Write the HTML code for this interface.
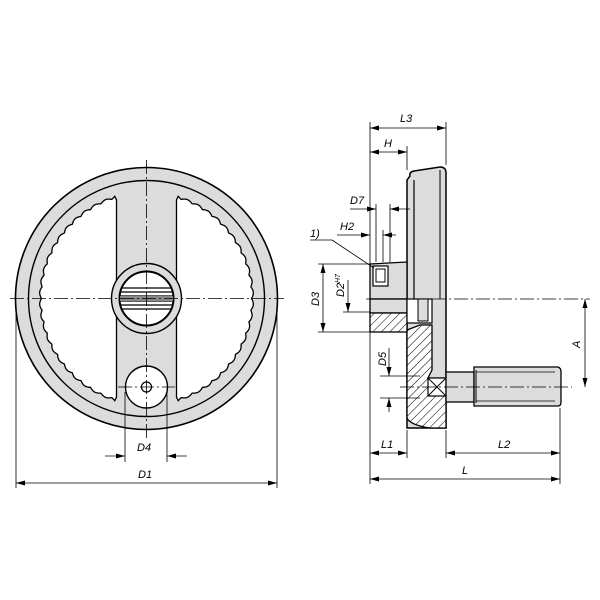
<!DOCTYPE html>
<html><head><meta charset="utf-8"><style>
html,body{margin:0;padding:0;background:#fff;}
svg{display:block}
text{font-family:"Liberation Sans",sans-serif;font-style:italic;font-size:11px;fill:#000}
</style></head><body>
<svg id="s" width="600" height="600" viewBox="0 0 600 600" xmlns="http://www.w3.org/2000/svg">
<defs>
<pattern id="h" width="6" height="6" patternUnits="userSpaceOnUse" patternTransform="rotate(45)">
<rect width="6" height="6" fill="#fff"/><line x1="0" y1="0" x2="0" y2="6" stroke="#000" stroke-width="1"/></pattern>
</defs>
<circle cx="146.5" cy="298.5" r="131" fill="#dcdcdc" stroke="#000" stroke-width="1.6"/>
<circle cx="146.5" cy="298.5" r="118" fill="none" stroke="#000" stroke-width="1.4"/>
<path id="wl" fill="#fff" stroke="#000" stroke-width="1.3"/>
<path id="wr" fill="#fff" stroke="#000" stroke-width="1.3"/>
<circle cx="146.5" cy="298.5" r="35" fill="#dcdcdc" stroke="#000" stroke-width="1.4"/>
<circle cx="146.5" cy="298.5" r="27" fill="#fff" stroke="#000" stroke-width="2"/>
<g stroke="#000" stroke-width="1.2">
<line x1="121" y1="288" x2="172" y2="288"/><line x1="120" y1="292" x2="173" y2="292"/>
<line x1="120" y1="296" x2="173" y2="296"/><line x1="120" y1="301" x2="173" y2="301"/>
<line x1="120" y1="305" x2="173" y2="305"/><line x1="121" y1="309" x2="172" y2="309"/>
</g>
<rect x="120" y="296" width="53" height="5" fill="#888"/>
<circle cx="146.5" cy="387" r="21" fill="#fff" stroke="#000" stroke-width="1.4"/>
<circle cx="146.5" cy="387" r="5" fill="#fff" stroke="#000" stroke-width="1.2"/>
<g stroke="#000" stroke-width="0.8" stroke-dasharray="14,3,2,3" fill="none">
<line x1="10" y1="298.5" x2="284" y2="298.5"/>
<line x1="146.5" y1="160" x2="146.5" y2="440"/>
<line x1="118" y1="387" x2="175" y2="387"/>
</g>
<g stroke="#000" stroke-width="0.8" fill="none">
<line x1="125" y1="392" x2="125" y2="462"/><line x1="167" y1="392" x2="167" y2="462"/>
<line x1="105" y1="456" x2="125" y2="456"/><line x1="187" y1="456" x2="167" y2="456"/>
<line x1="16" y1="305" x2="16" y2="488"/><line x1="277" y1="305" x2="277" y2="488"/>
<line x1="16" y1="483" x2="277" y2="483"/>
</g>
<text x="137" y="451">D4</text><text x="138" y="478">D1</text>
<path d="M410,176 Q409,172 414,171 L440,167 Q446,167 446,173 L446,428 L407,428 L407,180z" fill="#dcdcdc" stroke="#000" stroke-width="1.5"/>
<line x1="414" y1="180" x2="414" y2="300" stroke="#000" stroke-width="1.2"/>
<line x1="440" y1="170" x2="440" y2="299" stroke="#000" stroke-width="1"/>
<path d="M370,264 L407,262 L407,299 L370,299z" fill="#dcdcdc" stroke="#000" stroke-width="1.3"/>
<rect x="370" y="299" width="37" height="14" fill="#dcdcdc" stroke="#000" stroke-width="1.3"/>
<rect x="370" y="313" width="37" height="19" fill="url(#h)" stroke="#000" stroke-width="1.3"/>
<rect x="373" y="266" width="15" height="20" fill="#fff" stroke="#000" stroke-width="1.2"/>
<rect x="376" y="269" width="9" height="13" fill="#fff" stroke="#000" stroke-width="1"/>
<rect x="407" y="299" width="25" height="24" fill="#fff" stroke="#000" stroke-width="1.2"/>
<rect x="418" y="299" width="10" height="22" fill="#dcdcdc" stroke="#000" stroke-width="1"/>
<path d="M407,330 L420,325 L432,325 L432,370 L428,378 L446,378 L446,428 L430,428 Q410,425 407,418z" fill="url(#h)" stroke="#000" stroke-width="1.3"/>
<rect x="428" y="378" width="18" height="18" fill="#fff" stroke="#000" stroke-width="1.2"/>
<line x1="428" y1="378" x2="446" y2="396" stroke="#000"/><line x1="446" y1="378" x2="428" y2="396" stroke="#000"/>
<rect x="446" y="372" width="28" height="30" fill="#dcdcdc" stroke="#000" stroke-width="1.3"/>
<path d="M474,367 L558,367 Q561,368 561,372 L561,402 Q561,406 558,406 L474,406z" fill="#dcdcdc" stroke="#000" stroke-width="1.3"/>
<line x1="476" y1="370" x2="476" y2="403" stroke="#000"/>
<line x1="476" y1="372" x2="555" y2="372" stroke="#000" stroke-width=".8"/>
<line x1="476" y1="401" x2="555" y2="401" stroke="#000" stroke-width=".8"/>
<g stroke="#000" stroke-width="0.8" stroke-dasharray="14,3,2,3" fill="none">
<line x1="366" y1="299" x2="590" y2="299"/>
<line x1="400" y1="387" x2="572" y2="387"/>
</g>
<g stroke="#000" stroke-width="0.8" fill="none">
<line x1="370" y1="122" x2="370" y2="484"/><line x1="446" y1="122" x2="446" y2="165"/>
<line x1="370" y1="128" x2="446" y2="128"/>
<line x1="407" y1="146" x2="407" y2="170"/>
<line x1="370" y1="152" x2="407" y2="152"/>
<line x1="376" y1="204" x2="376" y2="262"/><line x1="390" y1="204" x2="390" y2="262"/>
<line x1="350" y1="209" x2="376" y2="209"/><line x1="410" y1="209" x2="390" y2="209"/>
<line x1="383" y1="230" x2="383" y2="262"/>
<line x1="337" y1="235" x2="370" y2="235"/><line x1="396" y1="235" x2="383" y2="235"/>
<line x1="318" y1="264" x2="370" y2="264"/><line x1="318" y1="332" x2="370" y2="332"/>
<line x1="323" y1="264" x2="323" y2="332"/>
<line x1="343" y1="312" x2="370" y2="312"/>
<line x1="348" y1="280" x2="348" y2="312"/>
<line x1="310" y1="240" x2="332" y2="240"/><line x1="332" y1="240" x2="374" y2="268"/>
<line x1="380" y1="376" x2="420" y2="376"/><line x1="380" y1="398" x2="420" y2="398"/>
<line x1="389" y1="348" x2="389" y2="376"/><line x1="389" y1="412" x2="389" y2="398"/>
<line x1="585" y1="299" x2="585" y2="387"/>
<line x1="407" y1="430" x2="407" y2="458"/><line x1="446" y1="430" x2="446" y2="458"/>
<line x1="560" y1="408" x2="560" y2="484"/>
<line x1="370" y1="453" x2="407" y2="453"/>
<line x1="446" y1="453" x2="560" y2="453"/>
<line x1="370" y1="479" x2="560" y2="479"/>
</g>
<g id="arr" fill="#000"></g>
<text x="400" y="122">L3</text><text x="384" y="147">H</text><text x="350" y="204">D7</text>
<text x="340" y="230">H2</text><text x="310" y="237">1)</text>
<text x="381" y="448">L1</text><text x="498" y="448">L2</text><text x="462" y="474">L</text>
<text transform="translate(319,306) rotate(-90)">D3</text>
<text transform="translate(344,297) rotate(-90)">D2<tspan dy="-4" font-size="7">H7</tspan></text>
<text transform="translate(386,366) rotate(-90)">D5</text>
<text transform="translate(580,348) rotate(-90)">A</text>
</svg>
<script>
function win(side){
 var cx=146.5,cy=298.5,R=107,xo=30,pts=[];
 var t0=Math.acos(xo/R);
 var n=400;
 for(var i=0;i<=n;i++){
  var t=-t0+2*t0*i/n;
  var r=R-2+2*Math.abs(Math.sin(t*28));
  var x=r*Math.cos(t),y=r*Math.sin(t);
  if(x<xo+2)x=xo+2;
  pts.push([cx+side*x,cy+y]);
 }
 var d="M"+(cx+side*xo)+","+(cy-Math.sqrt(R*R-xo*xo)+4);
 pts.forEach(function(p){d+=" L"+p[0].toFixed(1)+","+p[1].toFixed(1);});
 d+=" L"+(cx+side*xo)+","+(cy+Math.sqrt(R*R-xo*xo)-4)+"z";
 return d;
}
document.getElementById("wl").setAttribute("d",win(-1));
document.getElementById("wr").setAttribute("d",win(1));
var A=[[125,456,'r'],[167,456,'l'],[16,483,'l'],[277,483,'r'],[370,128,'l'],[446,128,'r'],
[370,152,'l'],[407,152,'r'],[376,209,'r'],[390,209,'l'],[370,235,'r'],[383,235,'l'],
[323,264,'u'],[323,332,'d'],[348,312,'d'],[389,376,'d'],[389,398,'u'],[585,299,'u'],[585,387,'d'],
[370,453,'l'],[407,453,'r'],[446,453,'l'],[560,453,'r'],[370,479,'l'],[560,479,'r']];
var g=document.getElementById("arr"),s="";
A.forEach(function(a){var x=a[0],y=a[1],L=9,W=2.5,p;
 if(a[2]=='r')p=[x,y,x-L,y-W,x-L,y+W];
 else if(a[2]=='l')p=[x,y,x+L,y-W,x+L,y+W];
 else if(a[2]=='u')p=[x,y,x-W,y+L,x+W,y+L];
 else p=[x,y,x-W,y-L,x+W,y-L];
 s+='<polygon points="'+p.join(',')+'"/>';});
g.innerHTML=s;
</script>
</body></html>
